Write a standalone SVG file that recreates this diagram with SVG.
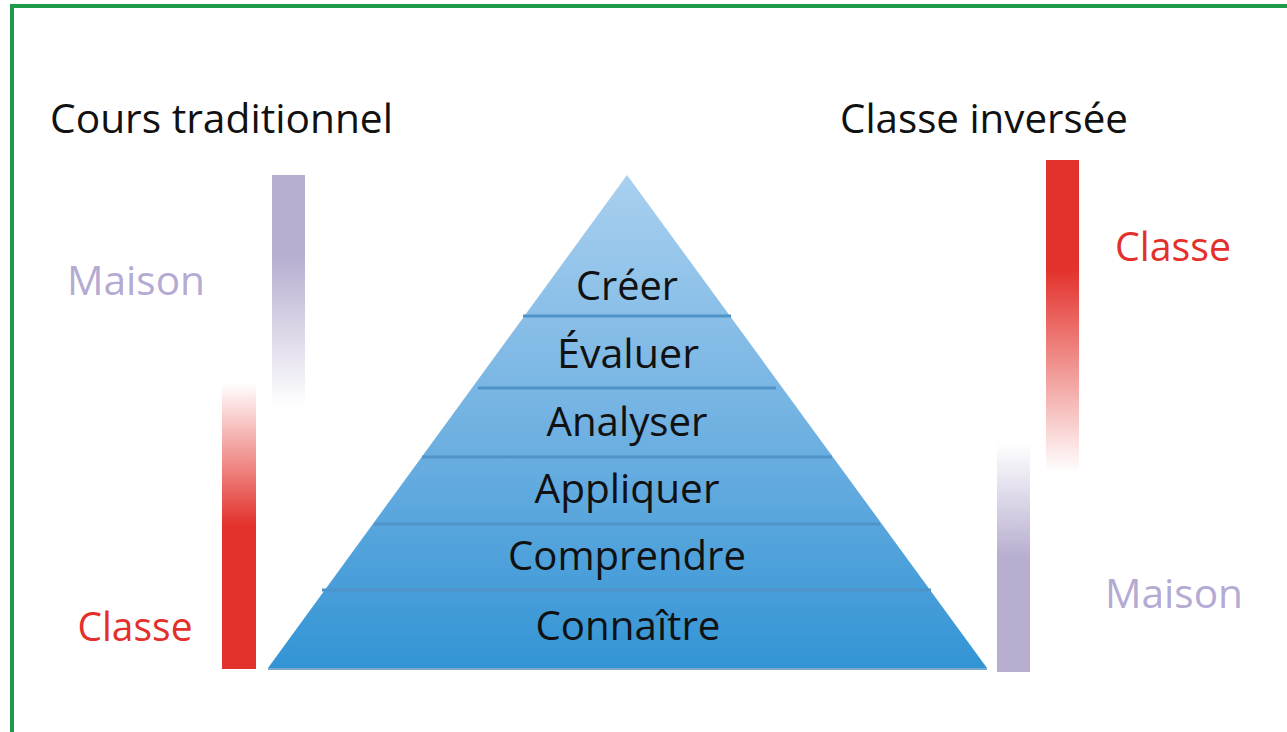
<svg xmlns="http://www.w3.org/2000/svg" width="1287" height="732" viewBox="0 0 1287 732">
  <defs>
    <linearGradient id="pyr" x1="0" y1="175" x2="0" y2="668" gradientUnits="userSpaceOnUse">
      <stop offset="0" stop-color="#a9d0ef"/>
      <stop offset="0.5" stop-color="#72b2e2"/>
      <stop offset="1" stop-color="#3394d5"/>
    </linearGradient>
    <linearGradient id="purpleDown" x1="0" y1="0" x2="0" y2="1">
      <stop offset="0" stop-color="#b8aed0"/>
      <stop offset="0.35" stop-color="#b8aed0"/>
      <stop offset="1" stop-color="#b8aed0" stop-opacity="0"/>
    </linearGradient>
    <linearGradient id="redUp" x1="0" y1="0" x2="0" y2="1">
      <stop offset="0" stop-color="#e3312b" stop-opacity="0"/>
      <stop offset="0.5" stop-color="#e3312b"/>
      <stop offset="1" stop-color="#e3312b"/>
    </linearGradient>
    <linearGradient id="redDown" x1="0" y1="0" x2="0" y2="1">
      <stop offset="0" stop-color="#e3312b"/>
      <stop offset="0.35" stop-color="#e3312b"/>
      <stop offset="1" stop-color="#e3312b" stop-opacity="0"/>
    </linearGradient>
    <linearGradient id="purpleUp" x1="0" y1="0" x2="0" y2="1">
      <stop offset="0" stop-color="#b8aed0" stop-opacity="0"/>
      <stop offset="0.5" stop-color="#b8aed0"/>
      <stop offset="1" stop-color="#b8aed0"/>
    </linearGradient>
  </defs>
  <style>
    text { font-family: "Open Sans", "Liberation Sans", sans-serif; }
    .title { font-size: 40px; fill: #111111; }
    .lvl { font-size: 40px; fill: #111111; text-anchor: middle; }
    .maison { font-size: 40px; fill: #b5aad3; text-anchor: middle; }
    .classe { font-size: 40px; fill: #e3302a; text-anchor: middle; }
    .sep { stroke: #4f93c8; stroke-width: 3; }
  </style>
  <rect x="0" y="0" width="1287" height="732" fill="#ffffff"/>
  <rect x="12" y="6" width="1290" height="740" fill="none" stroke="#1f9a4b" stroke-width="4"/>

  <g id="titles">
    <text class="title" x="50" y="133" textLength="343" lengthAdjust="spacingAndGlyphs">Cours traditionnel</text>
    <text class="title" x="840" y="133" textLength="288" lengthAdjust="spacingAndGlyphs">Classe inversée</text>
  </g>

  <g id="left-bars">
    <rect x="272" y="175" width="33" height="232" fill="url(#purpleDown)"/>
    <rect x="222" y="383" width="34" height="286" fill="url(#redUp)"/>
    <text class="maison" x="136" y="295" textLength="138" lengthAdjust="spacingAndGlyphs">Maison</text>
    <text class="classe" x="135" y="641" textLength="115" lengthAdjust="spacingAndGlyphs">Classe</text>
  </g>

  <g id="right-bars">
    <rect x="1046" y="160" width="33" height="312" fill="url(#redDown)"/>
    <rect x="997" y="443" width="33" height="229" fill="url(#purpleUp)"/>
    <text class="classe" x="1173" y="261" textLength="116" lengthAdjust="spacingAndGlyphs">Classe</text>
    <text class="maison" x="1174" y="608" textLength="138" lengthAdjust="spacingAndGlyphs">Maison</text>
  </g>

  <g id="pyramid">
    <polygon points="627,175 987,668 268,668" fill="url(#pyr)"/>
    <g id="separators">
      <line class="sep" x1="523" y1="316" x2="731" y2="316"/>
      <line class="sep" x1="478" y1="388" x2="776" y2="388"/>
      <line class="sep" x1="422" y1="457" x2="832" y2="457"/>
      <line class="sep" x1="374" y1="524" x2="880" y2="524"/>
      <line class="sep" x1="322" y1="590" x2="931" y2="590"/>
    </g>
    <line x1="268" y1="669" x2="987" y2="669" stroke="#7fa9c8" stroke-width="2"/>
    <g id="level-creer"><text class="lvl" x="627" y="300" textLength="102" lengthAdjust="spacingAndGlyphs">Créer</text></g>
    <g id="level-evaluer"><text class="lvl" x="628" y="368" textLength="142" lengthAdjust="spacingAndGlyphs">Évaluer</text></g>
    <g id="level-analyser"><text class="lvl" x="627" y="436" textLength="161" lengthAdjust="spacingAndGlyphs">Analyser</text></g>
    <g id="level-appliquer"><text class="lvl" x="627" y="503" textLength="185" lengthAdjust="spacingAndGlyphs">Appliquer</text></g>
    <g id="level-comprendre"><text class="lvl" x="627" y="570" textLength="238" lengthAdjust="spacingAndGlyphs">Comprendre</text></g>
    <g id="level-connaitre"><text class="lvl" x="628" y="640" textLength="185" lengthAdjust="spacingAndGlyphs">Connaître</text></g>
  </g>
</svg>
